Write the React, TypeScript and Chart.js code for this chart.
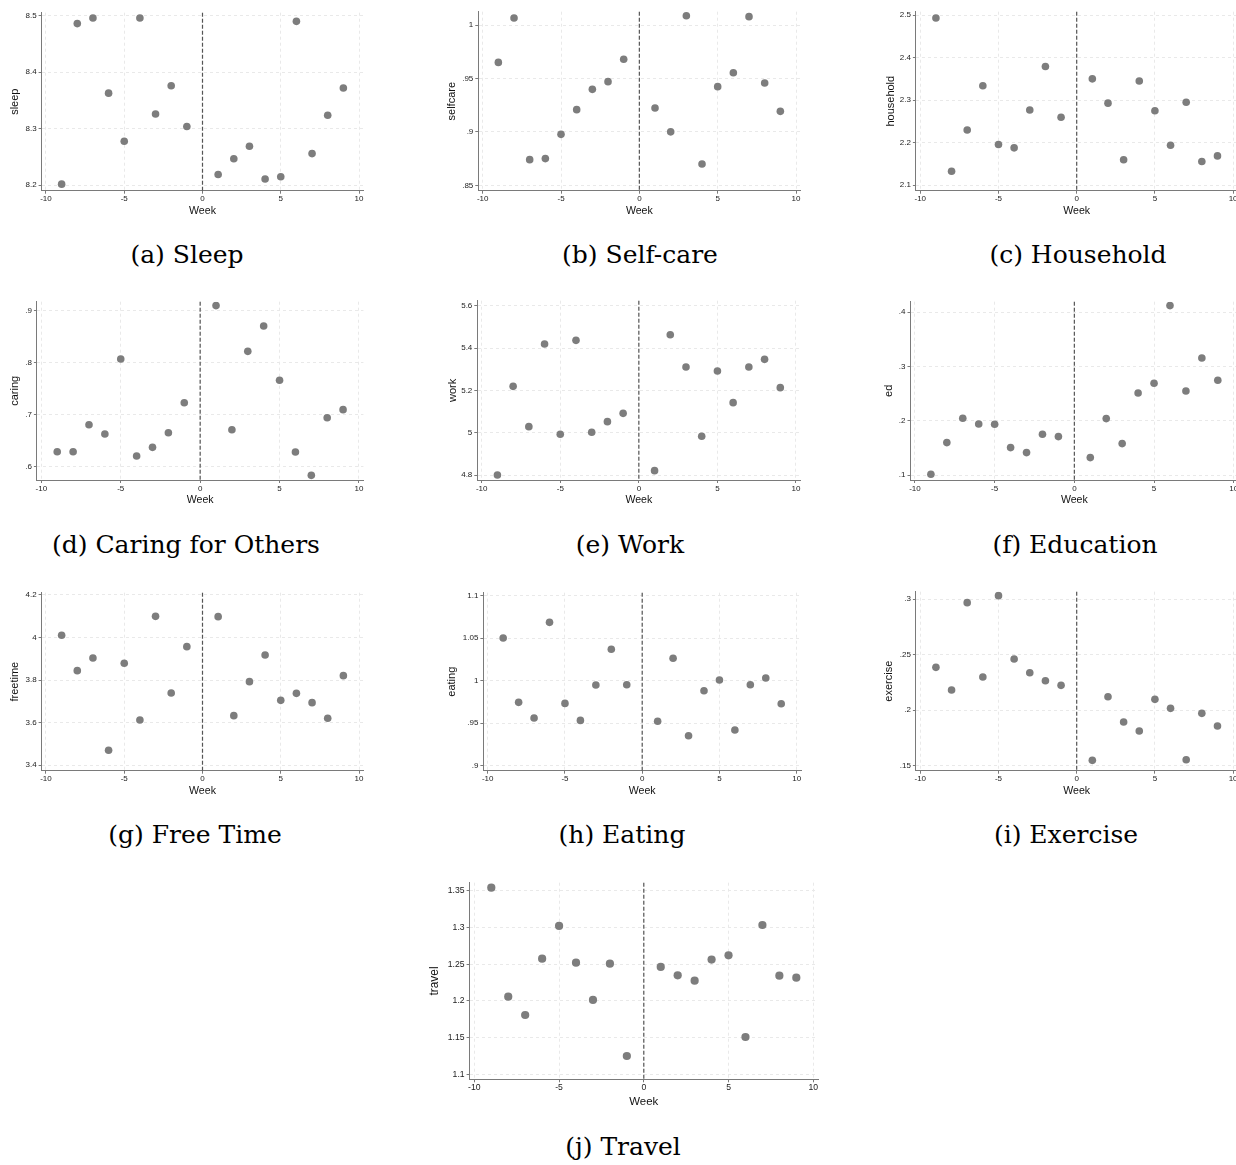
import React, { useEffect, useRef } from 'react';
import { Chart, registerables } from 'chart.js';
Chart.register(...registerables);

// ---------- DATA ----------
const weeks = [-9, -8, -7, -6, -5, -4, -3, -2, -1, 1, 2, 3, 4, 5, 6, 7, 8, 9];
const xTicks = [-10, -5, 0, 5, 10];

const sleep = [8.202, 8.486, 8.496, 8.363, 8.278, 8.496, 8.326, 8.376, 8.304, 8.219, 8.247, 8.269, 8.211, 8.215, 8.49, 8.256, 8.324, 8.372];
const selfcare = [0.965, 1.0065, 0.874, 0.875, 0.8977, 0.9208, 0.9398, 0.947, 0.9679, 0.9223, 0.9, 1.0087, 0.87, 0.9423, 0.9553, 1.0078, 0.9457, 0.9192];
const household = [2.493, 2.133, 2.23, 2.334, 2.196, 2.188, 2.277, 2.379, 2.26, 2.35, 2.293, 2.16, 2.345, 2.275, 2.194, 2.295, 2.156, 2.169];
const caring = [0.6288, 0.6288, 0.6806, 0.6627, 0.8066, 0.6205, 0.6371, 0.6652, 0.7228, 0.909, 0.671, 0.8213, 0.8699, 0.7657, 0.6281, 0.5834, 0.694, 0.7094];
const work = [4.8016, 5.2196, 5.0295, 5.4193, 4.9933, 5.4365, 5.0027, 5.053, 5.0923, 4.822, 5.4633, 5.3108, 4.9839, 5.2919, 5.1426, 5.3108, 5.347, 5.2134];
const ed = [0.1018, 0.1601, 0.2049, 0.1945, 0.1939, 0.1509, 0.1417, 0.1755, 0.1712, 0.1325, 0.2043, 0.1583, 0.2515, 0.2693, 0.4123, 0.2552, 0.316, 0.2748];
const freetime = [4.0106, 3.8446, 3.9041, 3.4704, 3.8791, 3.6129, 4.0998, 3.7397, 3.9573, 4.0982, 3.6333, 3.793, 3.918, 3.705, 3.738, 3.6943, 3.6207, 3.8211];
const eating = [1.0502, 0.9745, 0.9561, 1.0686, 0.9733, 0.9533, 0.9949, 1.0369, 0.9953, 0.9522, 1.0263, 0.9353, 0.9882, 1.0008, 0.942, 0.9953, 1.0031, 0.9729];
const exercise = [0.2385, 0.2181, 0.2967, 0.2298, 0.303, 0.246, 0.2337, 0.2265, 0.2223, 0.1548, 0.2121, 0.1893, 0.1812, 0.2097, 0.2016, 0.1554, 0.1971, 0.1857];
const travel = [1.3545, 1.2059, 1.1809, 1.2577, 1.3023, 1.2523, 1.2014, 1.2509, 1.125, 1.2464, 1.235, 1.2277, 1.2564, 1.2623, 1.1509, 1.3036, 1.2345, 1.2318];

const sleepTicks = [8.2, 8.3, 8.4, 8.5];
const selfcareTicks = [0.85, 0.9, 0.95, 1];
const householdTicks = [2.1, 2.2, 2.3, 2.4, 2.5];
const caringTicks = [0.6, 0.7, 0.8, 0.9];
const workTicks = [4.8, 5, 5.2, 5.4, 5.6];
const edTicks = [0.1, 0.2, 0.3, 0.4];
const freetimeTicks = [3.4, 3.6, 3.8, 4, 4.2];
const eatingTicks = [0.9, 0.95, 1, 1.05, 1.1];
const exerciseTicks = [0.15, 0.2, 0.25, 0.3];
const travelTicks = [1.1, 1.15, 1.2, 1.25, 1.3, 1.35];

const panels = [
  { caption: '(a) Sleep', yTitle: 'sleep', values: sleep, yTicks: sleepTicks, yMin: 8.1904, yMax: 8.5053 },
  { caption: '(b) Self-care', yTitle: 'selfcare', values: selfcare, yTicks: selfcareTicks, yMin: 0.84495, yMax: 1.01245 },
  { caption: '(c) Household', yTitle: 'household', values: household, yTicks: householdTicks, yMin: 2.0873, yMax: 2.5078 },
  { caption: '(d) Caring for Others', yTitle: 'caring', values: caring, yTicks: caringTicks, yMin: 0.5745, yMax: 0.9165 },
  { caption: '(e) Work', yTitle: 'work', values: work, yTicks: workTicks, yMin: 4.7778, yMax: 5.6236 },
  { caption: '(f) Education', yTitle: 'ed', values: ed, yTicks: edTicks, yMin: 0.0913, yMax: 0.4195 },
  { caption: '(g) Free Time', yTitle: 'freetime', values: freetime, yTicks: freetimeTicks, yMin: 3.3746, yMax: 4.2108 },
  { caption: '(h) Eating', yTitle: 'eating', values: eating, yTicks: eatingTicks, yMin: 0.8941, yMax: 1.1035 },
  { caption: '(i) Exercise', yTitle: 'exercise', values: exercise, yTicks: exerciseTicks, yMin: 0.1455, yMax: 0.30657 },
  { caption: '(j) Travel', yTitle: 'travel', values: travel, yTicks: travelTicks, yMin: 1.0932, yMax: 1.3613 },
];

// ---------- LAYOUT (plot frames in page pixels) ----------
const layouts = [
  { left: 41.6, top: 12.7, right: 363.4, bottom: 190.7, titleOff: 26.7, capX: 187, capY: 255, k: 1 },
  { left: 478.3, top: 11.7, right: 800.4, bottom: 190.7, titleOff: 26, capX: 640, capY: 255, k: 1 },
  { left: 915.9, top: 11.7, right: 1237.5, bottom: 190.7, titleOff: 25.2, capX: 1078, capY: 255, k: 1 },
  { left: 36.9, top: 301.7, right: 363.4, bottom: 480, titleOff: 21.9, capX: 186, capY: 545, k: 1 },
  { left: 477.3, top: 300.7, right: 800.4, bottom: 480, titleOff: 24, capX: 630, capY: 545, k: 1 },
  { left: 910.5, top: 301.7, right: 1238.2, bottom: 480, titleOff: 21.2, capX: 1075, capY: 545, k: 1 },
  { left: 41.6, top: 592.7, right: 363.4, bottom: 770.7, titleOff: 26.6, capX: 195, capY: 835, k: 1 },
  { left: 483.4, top: 592.7, right: 801.0, bottom: 770.7, titleOff: 31.1, capX: 622, capY: 835, k: 1 },
  { left: 915.9, top: 591.7, right: 1237.5, bottom: 770.7, titleOff: 26.6, capX: 1066, capY: 835, k: 1 },
  { left: 469.6, top: 882.7, right: 818.0, bottom: 1079.3, titleOff: 34.6, capX: 623, capY: 1147, k: 1.08 },
];

const SANS = '"Liberation Sans", Arial, Helvetica, sans-serif';
const SERIF = '"DejaVu Serif", serif';

const fmt = (v: number) => {
  let s = String(v);
  if (s.startsWith('0.')) s = s.slice(1);
  return s;
};

const xLinePlugin = {
  id: 'xline0',
  beforeDatasetsDraw(chart: any) {
    const { ctx, chartArea, scales } = chart;
    const x = scales.x.getPixelForValue(0);
    ctx.save();
    ctx.strokeStyle = '#555555';
    ctx.lineWidth = 1.2;
    ctx.setLineDash([4, 2]);
    ctx.beginPath();
    ctx.moveTo(x, chartArea.top);
    ctx.lineTo(x, chartArea.bottom);
    ctx.stroke();
    ctx.restore();
  },
};

function Panel({ p, l }: { p: any; l: any }) {
  const ref = useRef<HTMLCanvasElement>(null);
  const tickFont = 8 * l.k;
  const xTitleFont = 10.6 * l.k;
  const yTitleFont = 11 * l.k;
  const lhX = xTitleFont * 1.2;
  const lhY = yTitleFont * 1.2;
  const weekOff = 20.5 * l.k;

  const cLeft = Math.floor(l.left - l.titleOff - lhY / 2 - 2);
  const cTop = Math.floor(l.top - 10);
  const cW = Math.ceil(l.right - cLeft + 14);
  const cH = Math.ceil(l.bottom - cTop + weekOff + lhX / 2 + 2);
  const yW = l.left - cLeft;
  const padTop = l.top - cTop;
  const padRight = cLeft + cW - l.right;
  const xH = cTop + cH - l.bottom;
  const yTitlePad = l.left - l.titleOff - cLeft - lhY / 2;
  const xTitlePad = cTop + cH - (l.bottom + weekOff) - lhX / 2;

  useEffect(() => {
    if (!ref.current) return;
    const axisColor = '#7a7a7a';
    const gridColor = '#e9e9e9';
    const chart = new Chart(ref.current, {
      type: 'scatter',
      data: {
        datasets: [
          {
            data: weeks.map((w, i) => ({ x: w, y: p.values[i] })),
            backgroundColor: '#7d7d7d',
            borderColor: '#7d7d7d',
            borderWidth: 0,
            pointRadius: 3.8 * l.k,
            pointHoverRadius: 3.8 * l.k,
          },
        ],
      },
      options: {
        animation: false,
        responsive: false,
        maintainAspectRatio: false,
        devicePixelRatio: 1,
        events: [],
        layout: { padding: { top: padTop, right: padRight, left: 0, bottom: 0 } },
        plugins: { legend: { display: false }, tooltip: { enabled: false } },
        scales: {
          x: {
            type: 'linear',
            min: -10.28,
            max: 10.28,
            afterBuildTicks: (s: any) => {
              s.ticks = xTicks.map((v) => ({ value: v }));
            },
            afterFit: (s: any) => {
              s.height = xH;
            },
            ticks: {
              autoSkip: false,
              maxRotation: 0,
              padding: 0.5,
              color: '#222',
              font: { family: SANS, size: tickFont },
              callback: (v: any) => fmt(Number(v)),
            },
            grid: { color: gridColor, lineWidth: 1, tickColor: axisColor, tickLength: 3, tickWidth: 1 },
            border: { color: axisColor, width: 1, dash: [3, 3] },
            title: {
              display: true,
              text: 'Week',
              color: '#111',
              font: { family: SANS, size: xTitleFont },
              padding: { top: 0, bottom: xTitlePad },
            },
          },
          y: {
            type: 'linear',
            min: p.yMin,
            max: p.yMax,
            afterBuildTicks: (s: any) => {
              s.ticks = p.yTicks.map((v: number) => ({ value: v }));
            },
            afterFit: (s: any) => {
              s.width = yW;
            },
            ticks: {
              autoSkip: false,
              padding: 2,
              color: '#222',
              font: { family: SANS, size: tickFont },
              callback: (v: any) => fmt(Number(v)),
            },
            grid: { color: gridColor, lineWidth: 1, tickColor: axisColor, tickLength: 3, tickWidth: 1 },
            border: { color: axisColor, width: 1, dash: [3, 3] },
            title: {
              display: true,
              text: p.yTitle,
              color: '#111',
              font: { family: SANS, size: yTitleFont },
              padding: { top: yTitlePad, bottom: 0 },
            },
          },
        },
      } as any,
      plugins: [xLinePlugin],
    });
    return () => chart.destroy();
  }, []);

  return (
    <canvas
      ref={ref}
      width={cW}
      height={cH}
      style={{ position: 'absolute', left: cLeft, top: cTop, width: cW, height: cH }}
    />
  );
}

export default function App() {
  return (
    <div
      style={{
        position: 'absolute',
        left: 0,
        top: 0,
        width: 1236,
        height: 1165,
        overflow: 'hidden',
        background: '#ffffff',
      }}
    >
      {panels.map((p, i) => (
        <Panel key={p.yTitle} p={p} l={layouts[i]} />
      ))}
      {panels.map((p, i) => (
        <div
          key={'cap' + i}
          style={{
            position: 'absolute',
            left: layouts[i].capX - 200,
            top: layouts[i].capY - 16,
            width: 400,
            height: 32,
            lineHeight: '32px',
            textAlign: 'center',
            fontFamily: SERIF,
            fontSize: 25,
            color: '#000',
            whiteSpace: 'nowrap',
          }}
        >
          {p.caption}
        </div>
      ))}
    </div>
  );
}
